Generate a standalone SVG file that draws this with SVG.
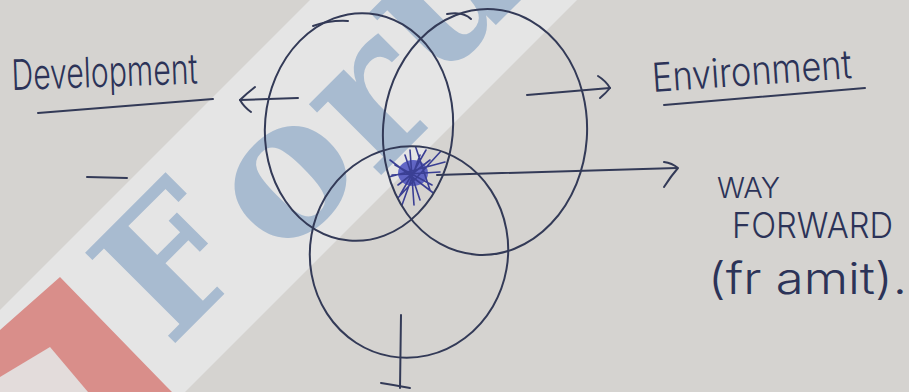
<svg xmlns="http://www.w3.org/2000/svg" width="909" height="392" viewBox="0 0 909 392">
  <style>
    .ink { fill: none; stroke: #333a57; stroke-width: 2; stroke-linecap: round; stroke-linejoin: round; }
    .hand { font-family: "Inter", "Open Sans", "Liberation Sans", sans-serif; font-weight: 300; fill: #2c3358; }
    .scribble { fill: none; stroke: #3a3f94; stroke-width: 1.6; stroke-linecap: round; }
    .wm { font-family: "DejaVu Serif", "Liberation Serif", serif; font-weight: bold; fill: #a8bbd0; }
  </style>
  <defs>
    <clipPath id="clipL"><ellipse cx="359" cy="127" rx="94" ry="114" transform="rotate(5 359 127)"/></clipPath>
    <clipPath id="clipR"><ellipse cx="485" cy="132" rx="102" ry="123" transform="rotate(4 485 132)"/></clipPath>
    <clipPath id="clipB"><ellipse cx="409" cy="252" rx="99" ry="106" transform="rotate(10 409 252)"/></clipPath>
  </defs>

  <!-- paper and watermark -->
  <g id="background">
    <rect x="0" y="0" width="909" height="392" fill="#d5d3d0"/>
    <polygon points="0,310 310,0 577,0 185,392 0,392" fill="#e5e5e5"/>
    <polygon points="0,330 60,277 165,385 172,392 0,392" fill="#d98e8a"/>
    <polygon points="0,377 50,347 88,392 0,392" fill="#e3dcdb"/>
    <text class="wm" transform="translate(168 343) rotate(-45)"><tspan x="-3" y="5" font-size="175">F</tspan><tspan x="137" y="22" font-size="190">o</tspan><tspan x="263" y="32" font-size="195">r</tspan><tspan x="372" y="7" font-size="190">u</tspan><tspan font-size="190">m</tspan></text>
  </g>

  <!-- shaded common region -->
  <g id="common-region" clip-path="url(#clipL)">
    <g clip-path="url(#clipR)">
      <g clip-path="url(#clipB)">
        <ellipse cx="413" cy="173" rx="15" ry="13" fill="#4a50c0" opacity="0.85"/>
        <path class="scribble" d="M395,165 L432,185 M398,185 L430,160 M405,155 L420,200 M392,175 L440,172 M400,195 L426,150 M410,150 L414,205 M390,160 L436,195 M420,155 L402,205 M385,178 L445,162 M396,200 L442,150 M415,145 L430,190"/>
      </g>
    </g>
  </g>

  <g id="node-development">
    <ellipse class="ink" cx="359" cy="127" rx="94" ry="114" transform="rotate(5 359 127)"/>
    <path class="ink" d="M313,26 Q330,20 348,21"/>
    <text class="hand" x="12" y="90" font-size="42" textLength="186" lengthAdjust="spacingAndGlyphs" transform="rotate(-2 12 90)">Development</text>
    <path class="ink" d="M38,113 L213,99"/>
  </g>

  <g id="node-environment">
    <ellipse class="ink" cx="485" cy="132" rx="102" ry="123" transform="rotate(4 485 132)"/>
    <path class="ink" d="M447,14 Q463,11 471,19"/>
    <text class="hand" x="653" y="92" font-size="40" textLength="200" lengthAdjust="spacingAndGlyphs" transform="rotate(-4 653 92)">Environment</text>
    <path class="ink" d="M664,105 L865,88"/>
  </g>

  <g id="node-third">
    <ellipse class="ink" cx="409" cy="252" rx="99" ry="106" transform="rotate(10 409 252)"/>
  </g>

  <g id="node-way-forward">
    <text class="hand" x="717" y="198" font-size="29" textLength="63" lengthAdjust="spacingAndGlyphs">WAY</text>
    <text class="hand" x="732" y="238" font-size="35" textLength="161" lengthAdjust="spacingAndGlyphs">FORWARD</text>
    <text class="hand" x="708" y="294" font-size="44" textLength="199" lengthAdjust="spacingAndGlyphs">(fr amit).</text>
  </g>

  <g id="stray-mark">
    <path class="ink" d="M87,177 L127,178"/>
  </g>

  <g id="connectors">
    <path class="ink" d="M298,98 L240,100"/>
    <path class="ink" d="M255,87 Q246,94 240,100 Q244,107 251,112"/>
    <path class="ink" d="M527,95 L610,88"/>
    <path class="ink" d="M598,76 Q606,81 610,88 Q606,93 600,98"/>
    <path class="ink" d="M437,175 L677,168"/>
    <path class="ink" d="M664,162 Q672,163 678,168 Q671,176 664,187"/>
    <path class="ink" d="M401,315 L400,388"/>
    <path class="ink" stroke-width="3" d="M381,383 Q394,385 410,388"/>
  </g>
</svg>
